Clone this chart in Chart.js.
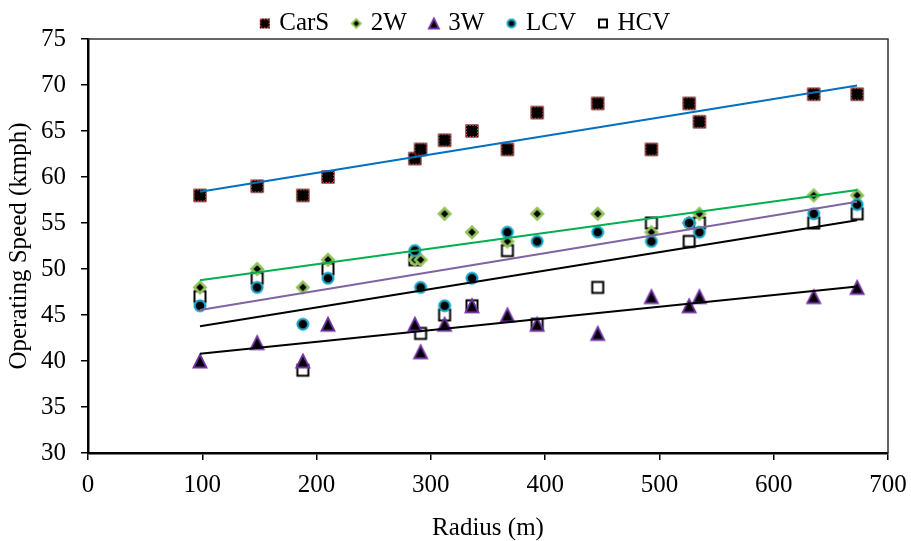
<!DOCTYPE html>
<html>
<head>
<meta charset="utf-8">
<script src="https://cdn.jsdelivr.net/npm/chart.js@4.4.1/dist/chart.umd.min.js"></script>
<style>
  html, body { margin: 0; padding: 0; background: #fff; }
  #wrap { width: 911px; height: 541px; position: relative; }
</style>
</head>
<body>
<div id="wrap"><canvas id="speedChart"></canvas></div>
<script>
// ----- Data -----
const radius = [98, 148, 188, 210, 286, 291, 312, 336, 367, 393, 446, 493, 526, 535, 635, 673];
const carS   = [58, 59, 58, 60, 62, 63, 64, 65, 63, 67, 68, 63, 68, 66, 69, 69];
const twoW   = [48, 50, 48, 51, 51, 51, 56, 54, 53, 56, 56, 54, 55, 56, 58, 58];
const threeW = [40, 42, 40, 44, 44, 41, 44, 46, 45, 44, 43, 47, 46, 47, 47, 48];
const lcv    = [46, 48, 44, 49, 52, 48, 46, 49, 54, 53, 54, 53, 55, 54, 56, 57];
const hcv    = [47, 49, 39, 50, 51, 43, 45, 46, 52, 44, 48, 55, 53, 55, 55, 56];

const seriesNames = ['CarS', '2W', '3W', 'LCV', 'HCV'];
const seriesData  = [carS, twoW, threeW, lcv, hcv];
const trendColors = ['#0070c0', '#00b050', '#000000', '#8064a2', '#000000'];

const xTicks = [0, 100, 200, 300, 400, 500, 600, 700];
const yTicks = [30, 35, 40, 45, 50, 55, 60, 65, 70, 75];

const FONT = '"Liberation Serif", "Times New Roman", serif';

// ----- Marker images -----
function makeIcon(w, h, cx, cy, s, draw) {
  const c = document.createElement('canvas');
  c.width = w; c.height = h;
  draw(c.getContext('2d'), cx, cy, s);
  return c;
}

const markerDraw = [
  // CarS: black square, red dotted rim
  (ctx, cx, cy, s) => {
    ctx.fillStyle = '#000';
    ctx.fillRect(cx - s / 2, cy - s / 2, s, s);
    ctx.strokeStyle = '#e8453c';
    ctx.lineWidth = 1.4;
    ctx.setLineDash([1.5, 1.5]);
    ctx.strokeRect(cx - s / 2 + 0.7, cy - s / 2 + 0.7, s - 1.4, s - 1.4);
  },
  // 2W: green diamond, black core
  (ctx, cx, cy, s) => {
    const r = s * 0.58;
    ctx.fillStyle = '#92c35a';
    ctx.beginPath();
    ctx.moveTo(cx, cy - r); ctx.lineTo(cx + r, cy); ctx.lineTo(cx, cy + r); ctx.lineTo(cx - r, cy);
    ctx.closePath(); ctx.fill();
    const q = r * 0.5;
    ctx.fillStyle = '#000';
    ctx.beginPath();
    ctx.moveTo(cx, cy - q); ctx.lineTo(cx + q, cy); ctx.lineTo(cx, cy + q); ctx.lineTo(cx - q, cy);
    ctx.closePath(); ctx.fill();
  },
  // 3W: black triangle, purple rim
  (ctx, cx, cy, s) => {
    const h = s * 0.5;
    ctx.fillStyle = '#000';
    ctx.strokeStyle = '#7030a0';
    ctx.lineWidth = 1.8;
    ctx.lineJoin = 'miter';
    ctx.beginPath();
    ctx.moveTo(cx, cy - h); ctx.lineTo(cx + h, cy + h); ctx.lineTo(cx - h, cy + h);
    ctx.closePath(); ctx.fill(); ctx.stroke();
  },
  // LCV: black circle, cyan rim
  (ctx, cx, cy, s) => {
    ctx.fillStyle = '#000';
    ctx.strokeStyle = '#1ba6c8';
    ctx.lineWidth = 2.2;
    ctx.beginPath();
    ctx.arc(cx, cy, s / 2 - 1.1, 0, Math.PI * 2);
    ctx.fill(); ctx.stroke();
  },
  // HCV: white square, black rim
  (ctx, cx, cy, s) => {
    ctx.fillStyle = '#fff';
    ctx.strokeStyle = '#000';
    ctx.lineWidth = 2;
    ctx.fillRect(cx - s / 2, cy - s / 2, s, s);
    ctx.strokeRect(cx - s / 2 + 1, cy - s / 2 + 1, s - 2, s - 2);
  },
];

const pointIcons  = markerDraw.map(d => makeIcon(20, 20, 10, 10, 13, d));
const legendIcons = markerDraw.map(d => makeIcon(40, 16, 31, 8, 10, d));

// ----- Trend lines (least squares, like the spreadsheet trendline) -----
function trendOf(ys) {
  const n = radius.length;
  const mx = radius.reduce((a, b) => a + b, 0) / n;
  const my = ys.reduce((a, b) => a + b, 0) / n;
  let sxy = 0, sxx = 0;
  radius.forEach((x, i) => { sxy += (x - mx) * (ys[i] - my); sxx += (x - mx) * (x - mx); });
  const b = sxy / sxx, a = my - b * mx;
  const x0 = Math.min(...radius), x1 = Math.max(...radius);
  return [{ x: x0, y: a + b * x0 }, { x: x1, y: a + b * x1 }];
}

// draw order: HCV at the back, trend lines on top
const pointOrder = [3, 4, 2, 1, 5];

const datasets = seriesNames.map((name, i) => ({
  type: 'scatter',
  label: name,
  data: radius.map((x, k) => ({ x, y: seriesData[i][k] })),
  pointStyle: pointIcons[i],
  pointRadius: 7,
  showLine: false,
  order: pointOrder[i],
}));

seriesNames.forEach((name, i) => {
  datasets.push({
    type: 'line',
    label: name + ' trend',
    data: trendOf(seriesData[i]),
    borderColor: trendColors[i],
    borderWidth: 2,
    pointRadius: 0,
    fill: false,
    order: 0,
  });
});

// frame on top and right of the plot
const framePlugin = {
  id: 'frame',
  beforeDatasetsDraw(chart) {
    const { ctx, chartArea: a } = chart;
    ctx.save();
    ctx.strokeStyle = '#333';
    ctx.lineWidth = 1.5;
    ctx.beginPath();
    ctx.moveTo(a.left, a.top);
    ctx.lineTo(a.right, a.top);
    ctx.lineTo(a.right, a.bottom);
    ctx.stroke();
    ctx.restore();
  },
};

Chart.defaults.font.family = FONT;
Chart.defaults.color = '#000';

new Chart(document.getElementById('speedChart'), {
  data: { datasets },
  plugins: [framePlugin],
  options: {
    responsive: true,
    maintainAspectRatio: false,
    animation: false,
    layout: { padding: { top: 8, right: 0, bottom: 0, left: 0 } },
    plugins: {
      tooltip: { enabled: false },
      legend: {
        position: 'top',
        maxHeight: 31,
        labels: {
          usePointStyle: true,
          pointStyleWidth: 26,
          padding: 3,
          color: '#000',
          font: { size: 25, family: FONT },
          generateLabels: () => seriesNames.map((name, i) => ({
            text: name,
            pointStyle: legendIcons[i],
            fillStyle: '#000',
            strokeStyle: '#000',
            lineWidth: 0,
            hidden: false,
            datasetIndex: i,
            fontColor: '#000',
          })),
        },
      },
    },
    scales: {
      x: {
        type: 'linear',
        min: xTicks[0],
        max: xTicks[xTicks.length - 1],
        afterBuildTicks: s => { s.ticks = xTicks.map(v => ({ value: v })); },
        afterFit: s => { s.height = 88; s.paddingRight = 23; },
        border: { display: true, color: '#000', width: 2.5 },
        grid: { display: true, drawOnChartArea: false, drawTicks: true, tickLength: 7, color: '#000', lineWidth: 1.5 },
        ticks: { color: '#000', padding: 10, font: { size: 25, family: FONT }, maxRotation: 0 },
        title: {
          display: true, text: 'Radius (m)', color: '#000',
          font: { size: 25, family: FONT, lineHeight: 1 }, padding: { top: 0, bottom: 0 },
        },
      },
      y: {
        type: 'linear',
        min: yTicks[0],
        max: yTicks[yTicks.length - 1],
        afterBuildTicks: s => { s.ticks = yTicks.map(v => ({ value: v })); },
        afterFit: s => { s.width = 88; },
        border: { display: true, color: '#000', width: 2.5 },
        grid: { display: true, drawOnChartArea: false, drawTicks: true, tickLength: 7, color: '#000', lineWidth: 1.5 },
        ticks: { color: '#000', padding: 15, font: { size: 25, family: FONT } },
        title: {
          display: true, text: 'Operating Speed (kmph)', color: '#000',
          font: { size: 25, family: FONT, lineHeight: 1 }, padding: { top: 7, bottom: 0 },
        },
      },
    },
  },
});
</script>
</body>
</html>
